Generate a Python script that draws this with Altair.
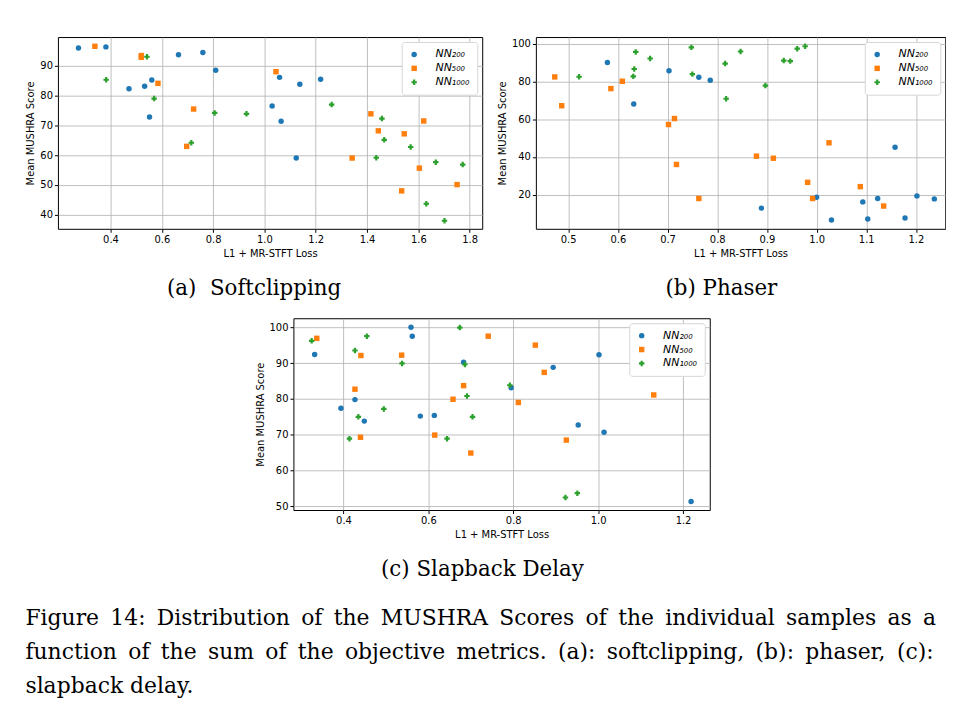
import altair as alt
import pandas as pd

models = ["NN₂₀₀", "NN₅₀₀", "NN₁₀₀₀"]
colors = ["#1f77b4", "#ff7f0e", "#2ca02c"]
shapes = ["circle", "square", "cross"]

# (a) Softclipping
a200_x = [0.275, 0.382, 0.472, 0.533, 0.561, 0.552, 0.665, 0.760, 0.810, 1.059, 1.138, 1.219, 1.030, 1.065, 1.124]
a200_y = [95.8, 96.2, 82.2, 83.0, 85.1, 72.7, 93.6, 94.3, 88.4, 86.0, 83.7, 85.4, 76.4, 71.3, 59.0]
a500_x = [0.339, 0.520, 0.520, 0.585, 0.724, 0.697, 1.045, 1.415, 1.444, 1.545, 1.621, 1.342, 1.604, 1.535, 1.751]
a500_y = [96.4, 93.3, 92.7, 84.0, 75.4, 62.9, 87.9, 73.8, 68.1, 67.1, 71.4, 59.0, 55.6, 48.0, 50.1]
a1000_x = [0.383, 0.542, 0.570, 0.715, 0.806, 0.930, 1.262, 1.458, 1.467, 1.570, 1.436, 1.668, 1.773, 1.631, 1.702]
a1000_y = [85.2, 92.9, 78.9, 64.1, 74.1, 73.8, 76.9, 72.2, 65.1, 62.7, 59.1, 57.6, 56.8, 43.7, 38.0]

# (b) Phaser
b200_x = [0.579, 0.632, 0.703, 0.763, 0.786, 0.889, 1.000, 1.030, 1.093, 1.103, 1.123, 1.158, 1.178, 1.202, 1.237]
b200_y = [90.2, 68.1, 85.8, 82.3, 80.7, 12.8, 18.6, 6.5, 16.1, 7.0, 17.9, 45.1, 7.5, 19.3, 17.7]
b500_x = [0.473, 0.487, 0.586, 0.609, 0.702, 0.714, 0.718, 0.763, 0.879, 0.913, 0.982, 0.992, 1.025, 1.088, 1.135]
b500_y = [82.5, 67.2, 76.3, 80.2, 57.2, 60.4, 36.0, 17.9, 40.4, 39.3, 26.5, 17.9, 47.5, 24.2, 13.9]
b1000_x = [0.522, 0.631, 0.633, 0.636, 0.665, 0.748, 0.750, 0.816, 0.818, 0.847, 0.897, 0.934, 0.947, 0.961, 0.977]
b1000_y = [82.6, 82.8, 86.7, 95.8, 92.3, 98.2, 84.0, 89.6, 70.9, 96.0, 77.9, 91.2, 90.9, 97.5, 98.8]

# (c) Slapback Delay
c200_x = [0.332, 0.394, 0.427, 0.449, 0.559, 0.562, 0.581, 0.614, 0.683, 0.795, 0.894, 1.002, 0.953, 1.014, 1.219]
c200_y = [92.4, 77.4, 79.8, 73.8, 100.0, 97.5, 75.2, 75.4, 90.2, 83.1, 88.8, 92.3, 72.7, 70.7, 51.4]
c500_x = [0.337, 0.427, 0.441, 0.440, 0.537, 0.615, 0.658, 0.683, 0.700, 0.741, 0.852, 0.873, 0.812, 0.925, 1.131]
c500_y = [96.9, 82.7, 92.1, 69.3, 92.2, 69.9, 79.9, 83.7, 64.9, 97.5, 95.0, 87.4, 79.0, 68.5, 81.1]
c1000_x = [0.325, 0.427, 0.455, 0.435, 0.414, 0.495, 0.538, 0.644, 0.674, 0.686, 0.691, 0.704, 0.792, 0.923, 0.951]
c1000_y = [96.2, 93.5, 97.5, 75.0, 68.9, 77.2, 89.9, 68.9, 99.9, 89.6, 80.8, 75.0, 83.8, 52.5, 53.7]

captions = ["(a)\u00a0\u00a0Softclipping", "(b) Phaser", "(c) Slapback Delay"]
fig_caption = [
    "Figure 14: Distribution of the MUSHRA Scores of the individual samples as a",
    "function of the sum of the objective metrics. (a): softclipping, (b): phaser, (c):",
    "slapback delay.",
]
# justified lines: widen the word gaps of the first two lines with a thin space
fig_lines = [l.replace(" ", "\u2009 ") for l in fig_caption[:2]] + fig_caption[2:]


def make_df(series):
    rows = []
    i = 0
    for m, (xs, ys) in zip(models, series):
        for x, y in zip(xs, ys):
            rows.append({"x": x, "y": y, "model": m, "idx": i})
            i += 1
    return pd.DataFrame(rows)


legend = alt.Legend(
    orient="top-right", title=None, offset=5, padding=7,
    strokeColor="#d6d6d6", fillColor="white", cornerRadius=3,
    labelFont="DejaVu Sans", labelFontStyle="italic", labelFontSize=11,
    labelColor="black", labelOffset=16, symbolSize=30, rowPadding=2,
)


def panel(df, xdom, ydom, xticks, yticks, w, h, caption):
    return alt.Chart(df).mark_point(filled=True, opacity=1, size=30).encode(
        x=alt.X("x:Q", scale=alt.Scale(domain=xdom, nice=False, zero=False),
                axis=alt.Axis(values=xticks, format=".1f", title="L1 + MR-STFT Loss")),
        y=alt.Y("y:Q", scale=alt.Scale(domain=ydom, nice=False, zero=False),
                axis=alt.Axis(values=yticks, format="d", title="Mean MUSHRA Score")),
        color=alt.Color("model:N", scale=alt.Scale(domain=models, range=colors), legend=legend),
        shape=alt.Shape("model:N", scale=alt.Scale(domain=models, range=shapes), legend=legend),
        order=alt.Order("idx:Q"),
    ).properties(
        width=w, height=h,
        title=alt.TitleParams(caption, orient="bottom", anchor="middle", frame="bounds", offset=20,
                              font="DejaVu Serif", fontSize=21.5, fontWeight="normal", color="black"),
    )


pa = panel(make_df([(a200_x, a200_y), (a500_x, a500_y), (a1000_x, a1000_y)]),
           [0.195, 1.849], [35.3, 99.5],
           [0.4, 0.6, 0.8, 1.0, 1.2, 1.4, 1.6, 1.8], [40, 50, 60, 70, 80, 90],
           427, 193, captions[0])
pb = panel(make_df([(b200_x, b200_y), (b500_x, b500_y), (b1000_x, b1000_y)]),
           [0.435, 1.259], [1.8, 103.7],
           [0.5, 0.6, 0.7, 0.8, 0.9, 1.0, 1.1, 1.2], [20, 40, 60, 80, 100],
           412, 193, captions[1])
pc = panel(make_df([(c200_x, c200_y), (c500_x, c500_y), (c1000_x, c1000_y)]),
           [0.282, 1.263], [49.0, 102.5],
           [0.4, 0.6, 0.8, 1.0, 1.2], [50, 60, 70, 80, 90, 100],
           419, 193, captions[2])

row1 = alt.hconcat(pa, pb, spacing=13).resolve_scale(color="independent", shape="independent")

chart = alt.vconcat(row1, pc, spacing=17, center=True).resolve_scale(
    color="independent", shape="independent"
).properties(
    padding={"left": 17, "top": 26, "right": 0, "bottom": 4},
    title=alt.TitleParams(fig_lines, orient="bottom", anchor="start", offset=27,
                          font="DejaVu Serif", fontSize=22, fontWeight="normal",
                          color="black", lineHeight=34.5),
).configure_view(
    stroke="black", strokeWidth=1
).configure_axis(
    domain=False, grid=True, gridColor="#b0b0b0", gridWidth=0.8,
    tickColor="black", tickSize=3.5, labelFont="DejaVu Sans", labelFontSize=10,
    labelColor="black", titleFont="DejaVu Sans", titleFontSize=10,
    titleFontWeight="normal", titleColor="black", labelPadding=2, titlePadding=4,
)

chart.save("out.html", embed_options={"renderer": "svg", "actions": False})
